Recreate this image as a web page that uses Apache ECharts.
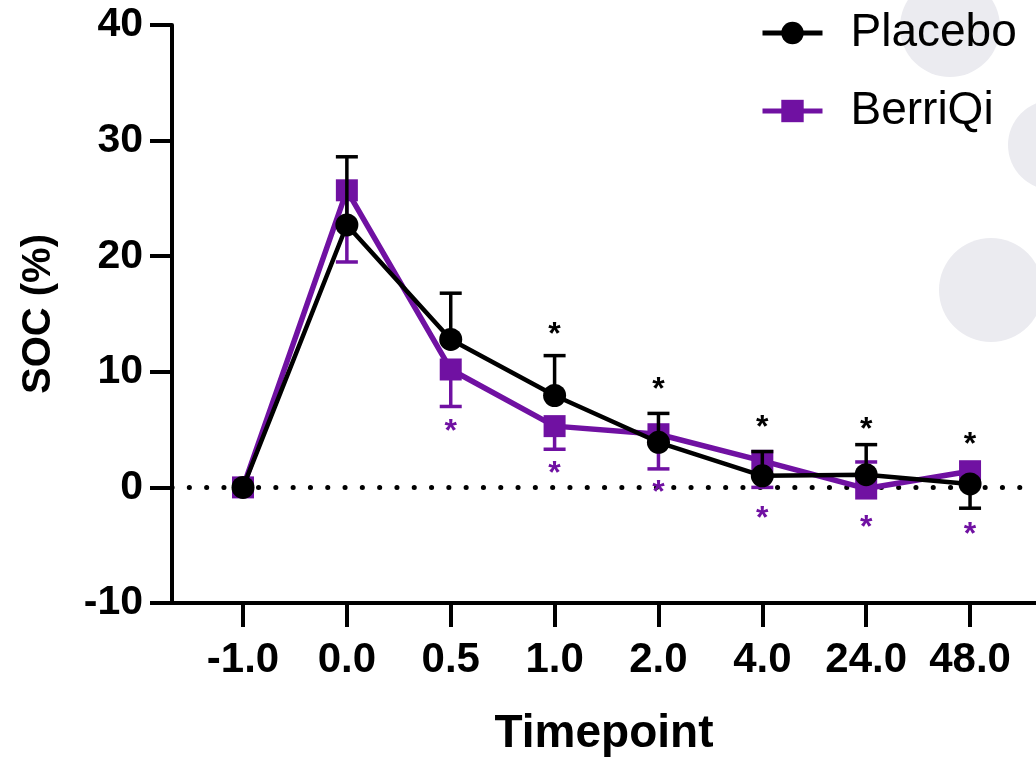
<!DOCTYPE html>
<html>
<head>
<meta charset="utf-8">
<script src="https://cdn.jsdelivr.net/npm/echarts@6/dist/echarts.min.js"></script>
<style>html,body{margin:0;padding:0;background:#fff}#c{width:1036px;height:759px}</style>
</head>
<body>
<div id="c"></div>
<script>
// ---- data ----
const timepoints = ['-1.0', '0.0', '0.5', '1.0', '2.0', '4.0', '24.0', '48.0'];
const placebo = [0, 22.7, 12.8, 7.95, 3.9, 1.0, 1.1, 0.3];
const placeboErrEnd = [null, 28.6, 16.8, 11.4, 6.4, 3.1, 3.7, -1.8];
const berriqi = [0, 25.7, 10.2, 5.3, 4.6, 2.3, -0.1, 1.4];
const berriqiErrEnd = [null, 19.5, 7.0, 3.3, 1.6, 0.0, 2.2, null];
const placeboStars = [null, null, null, 13.7, 8.9, 5.6, 5.5, 4.15];
const berriqiStars = [null, null, 5.3, 1.7, 0.0, -2.2, -3.0, -3.6];
const yTicks = [-10, 0, 10, 20, 30, 40];

const BLACK = '#000000';
const PURPLE = '#7011a2';
const FONT = '"Liberation Sans", Arial, sans-serif';

const pairs = arr => arr.map((v, i) => [i, v]);
const errData = (means, ends) => means.map((m, i) => [i, m, ends[i]]).filter(d => d[2] !== null);
const starData = arr => arr.map((v, i) => [i, v]).filter(d => d[1] !== null);

function errRender(color) {
  return function (params, api) {
    const x = api.value(0), m = api.value(1), e = api.value(2);
    const p0 = api.coord([x, m]);
    const p1 = api.coord([x, e]);
    return {
      type: 'group',
      children: [
        { type: 'line', shape: { x1: p0[0], y1: p0[1], x2: p1[0], y2: p1[1] }, style: { stroke: color, lineWidth: 3.5 } },
        { type: 'line', shape: { x1: p1[0] - 11, y1: p1[1], x2: p1[0] + 11, y2: p1[1] }, style: { stroke: color, lineWidth: 3.5 } }
      ]
    };
  };
}
function starRender(color) {
  return function (params, api) {
    const p = api.coord([api.value(0), api.value(1)]);
    return {
      type: 'text',
      x: p[0], y: p[1] + 6,
      style: { text: '*', fill: color, font: 'bold 32px ' + FONT, align: 'center', verticalAlign: 'middle' }
    };
  };
}

const chart = echarts.init(document.getElementById('c'), null, { renderer: 'canvas' });
chart.setOption({
  backgroundColor: '#ffffff',
  animation: false,
  graphic: [
    { type: 'circle', shape: { cx: 950, cy: 27, r: 50 }, style: { fill: '#ebebf0' }, z: -10 },
    { type: 'circle', shape: { cx: 1053, cy: 145, r: 45 }, style: { fill: '#ebebf0' }, z: -10 },
    { type: 'circle', shape: { cx: 991, cy: 290, r: 52 }, style: { fill: '#ebebf0' }, z: -10 }
  ],
  grid: { left: 172, right: 0, top: 25, bottom: 156, containLabel: false, outerBoundsMode: 'none' },
  legend: {
    data: ['Placebo', 'BerriQi'],
    orient: 'vertical',
    left: 755,
    top: 5,
    itemWidth: 60,
    itemHeight: 28,
    itemGap: 32,
    lineStyle: { width: 5 },
    textStyle: { fontFamily: FONT, fontSize: 46, color: '#000', padding: [0, 0, 0, 23] }
  },
  xAxis: {
    type: 'value',
    min: -0.6836,
    max: 7.635,
    splitLine: { show: false },
    axisLine: { onZero: false, lineStyle: { color: BLACK, width: 4 } },
    axisTick: { customValues: [0, 1, 2, 3, 4, 5, 6, 7], length: 24, lineStyle: { color: BLACK, width: 4 } },
    axisLabel: {
      customValues: [0, 1, 2, 3, 4, 5, 6, 7],
      formatter: v => timepoints[Math.round(v)],
      fontFamily: FONT, fontWeight: 'bold', fontSize: 42, color: '#000', margin: 36
    },
    name: 'Timepoint',
    nameLocation: 'middle',
    nameGap: 108,
    nameTextStyle: { fontFamily: FONT, fontWeight: 'bold', fontSize: 46, color: '#000' }
  },
  yAxis: {
    type: 'value',
    min: -10,
    max: 40,
    interval: 10,
    splitLine: { show: false },
    axisLine: { show: true, onZero: false, lineStyle: { color: BLACK, width: 4 } },
    axisTick: { show: true, length: 22, lineStyle: { color: BLACK, width: 4 } },
    axisLabel: {
      formatter: v => (yTicks.indexOf(v) >= 0 ? String(v) : ''),
      fontFamily: FONT, fontWeight: 'bold', fontSize: 41, color: '#000', margin: 29
    },
    name: 'SOC (%)',
    nameLocation: 'middle',
    nameGap: 113,
    nameTextStyle: { fontFamily: FONT, fontWeight: 'bold', fontSize: 40, color: '#000' }
  },
  series: [
    {
      name: 'BerriQi',
      type: 'line',
      data: pairs(berriqi),
      symbol: 'rect',
      symbolSize: 22,
      itemStyle: { color: PURPLE },
      lineStyle: { color: PURPLE, width: 5.5 },
      z: 2
    },
    {
      type: 'custom',
      renderItem: errRender(PURPLE),
      data: errData(berriqi, berriqiErrEnd),
      z: 2
    },
    {
      type: 'custom',
      renderItem: errRender(BLACK),
      data: errData(placebo, placeboErrEnd),
      z: 3
    },
    {
      name: 'Placebo',
      type: 'line',
      data: pairs(placebo),
      symbol: 'circle',
      symbolSize: 23,
      itemStyle: { color: BLACK },
      lineStyle: { color: BLACK, width: 4.5 },
      z: 4,
      markLine: {
        silent: true,
        symbol: 'none',
        label: { show: false },
        lineStyle: { color: BLACK, width: 5, type: [0.1, 17.2], cap: 'round' },
        data: [{ yAxis: 0 }],
        z: 1
      }
    },
    {
      type: 'custom',
      renderItem: starRender(BLACK),
      data: starData(placeboStars),
      z: 5
    },
    {
      type: 'custom',
      renderItem: starRender(PURPLE),
      data: starData(berriqiStars),
      z: 5
    }
  ]
});
</script>
</body>
</html>
